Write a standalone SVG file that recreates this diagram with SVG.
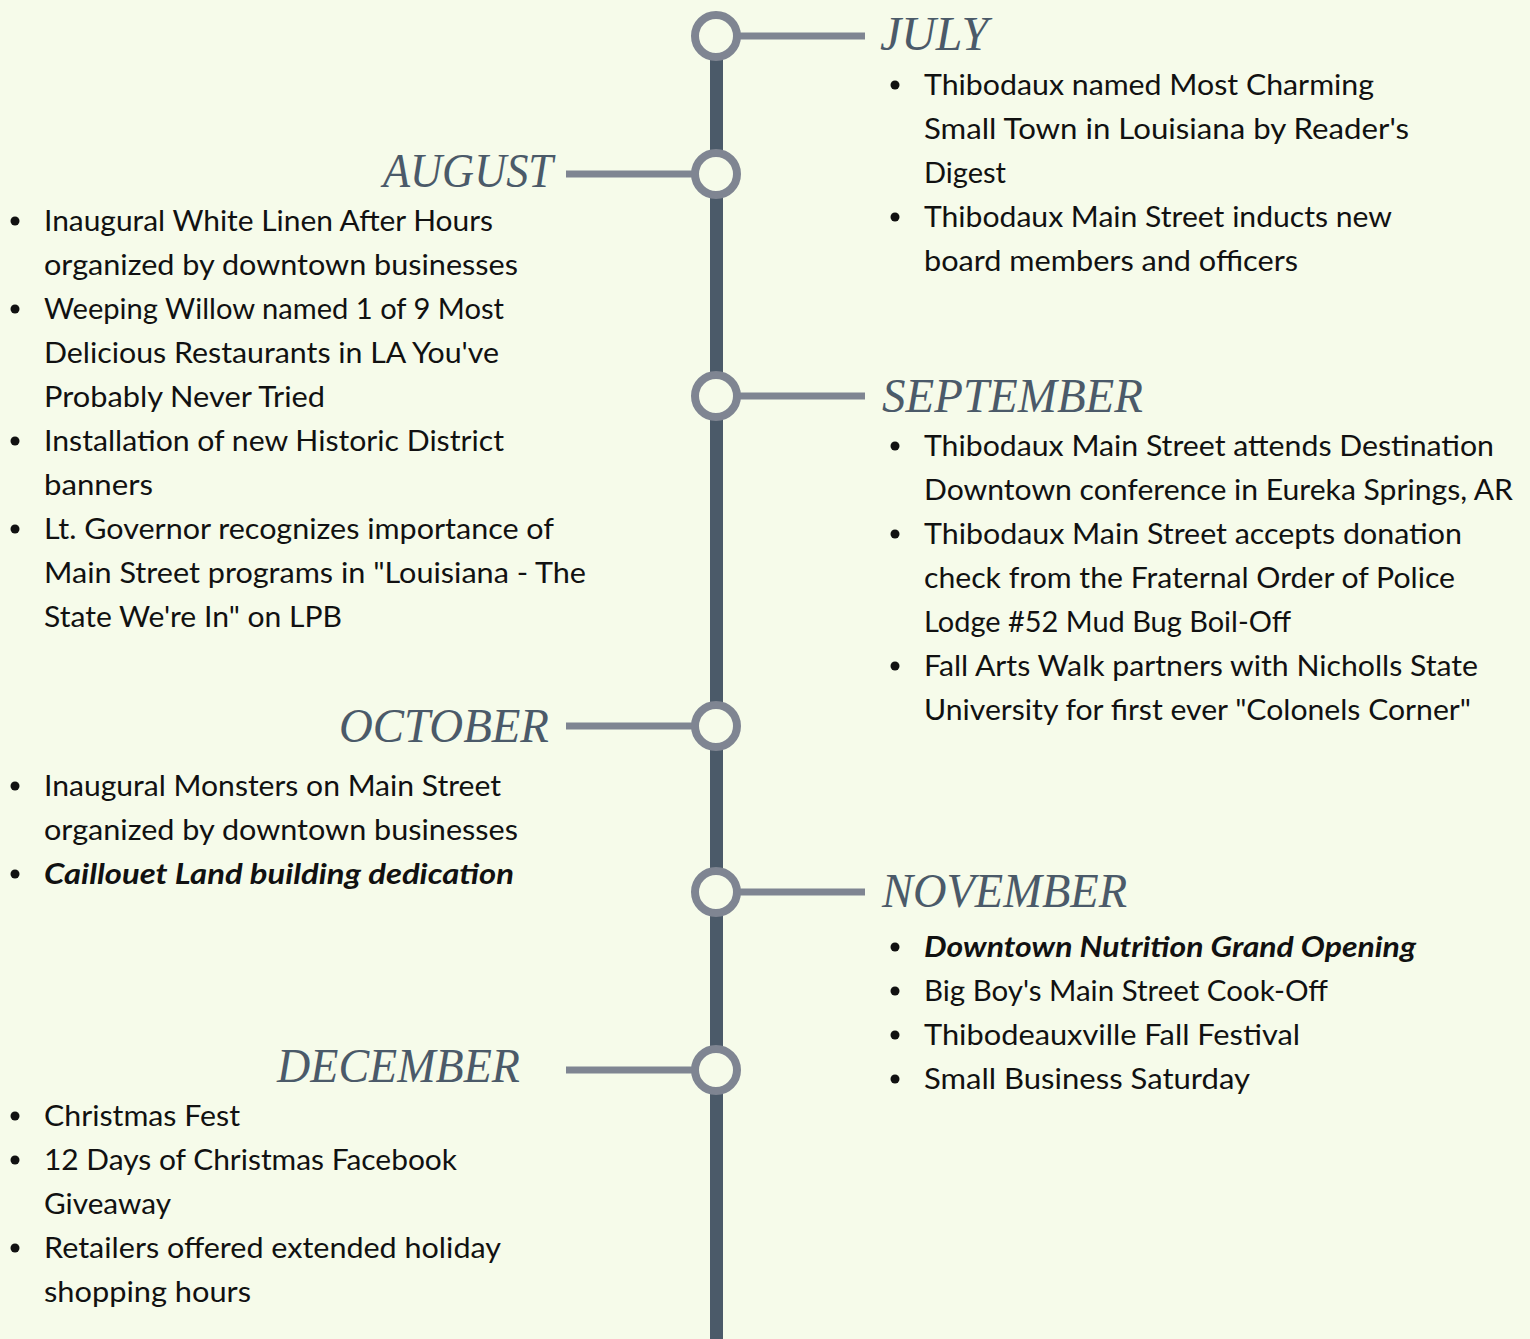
<svg xmlns="http://www.w3.org/2000/svg" width="1530" height="1339" viewBox="0 0 1530 1339">
<style>
.bg{fill:#F6FBEA}
.spine{stroke:#4B5A69;stroke-width:13}
.link{stroke:#7F8592;stroke-width:7}
.dot{fill:#F6FBEA;stroke:#7F8592;stroke-width:8}
.month{font-family:"Liberation Serif",serif;font-style:italic;font-size:48px;fill:#4B5A69}
.item{font-family:Lato,"Liberation Sans",sans-serif;font-size:28px;fill:#111}
.bi{font-weight:bold;font-style:italic}
.bullet{fill:#111}
</style>
<rect class="bg" width="1530" height="1339"/>
<g id="connectors">
<line class="spine" x1="716.5" y1="56" x2="716.5" y2="1339"/>
<line class="link" x1="738" y1="36" x2="865" y2="36"/>
<line class="link" x1="566" y1="174" x2="694" y2="174"/>
<line class="link" x1="738" y1="396" x2="865" y2="396"/>
<line class="link" x1="566" y1="726" x2="694" y2="726"/>
<line class="link" x1="738" y1="892" x2="865" y2="892"/>
<line class="link" x1="566" y1="1070" x2="694" y2="1070"/>
</g>
<g id="july">
<circle class="dot" cx="716" cy="36" r="21"/>
<text class="month" x="880" y="50" textLength="108" lengthAdjust="spacingAndGlyphs">JULY</text>
<g class="bullet"><circle cx="895" cy="85" r="4.5"/><circle cx="895" cy="217" r="4.5"/></g>
<text class="item" x="924" y="95" textLength="450" lengthAdjust="spacingAndGlyphs">Thibodaux named Most Charming</text>
<text class="item" x="924" y="139" textLength="485" lengthAdjust="spacingAndGlyphs">Small Town in Louisiana by Reader's</text>
<text class="item" x="924" y="183" textLength="82" lengthAdjust="spacingAndGlyphs">Digest</text>
<text class="item" x="924" y="227" textLength="468" lengthAdjust="spacingAndGlyphs">Thibodaux Main Street inducts new</text>
<text class="item" x="924" y="271" textLength="374" lengthAdjust="spacingAndGlyphs">board members and officers</text>
</g>
<g id="august">
<circle class="dot" cx="716" cy="174" r="21"/>
<text class="month" x="383" y="187" textLength="170" lengthAdjust="spacingAndGlyphs">AUGUST</text>
<g class="bullet"><circle cx="15" cy="221" r="4.5"/><circle cx="15" cy="309" r="4.5"/><circle cx="15" cy="441" r="4.5"/><circle cx="15" cy="529" r="4.5"/></g>
<text class="item" x="44" y="231" textLength="449" lengthAdjust="spacingAndGlyphs">Inaugural White Linen After Hours</text>
<text class="item" x="44" y="275" textLength="474" lengthAdjust="spacingAndGlyphs">organized by downtown businesses</text>
<text class="item" x="44" y="319" textLength="460" lengthAdjust="spacingAndGlyphs">Weeping Willow named 1 of 9 Most</text>
<text class="item" x="44" y="363" textLength="455" lengthAdjust="spacingAndGlyphs">Delicious Restaurants in LA You've</text>
<text class="item" x="44" y="407" textLength="281" lengthAdjust="spacingAndGlyphs">Probably Never Tried</text>
<text class="item" x="44" y="451" textLength="460" lengthAdjust="spacingAndGlyphs">Installation of new Historic District</text>
<text class="item" x="44" y="495" textLength="109" lengthAdjust="spacingAndGlyphs">banners</text>
<text class="item" x="44" y="539" textLength="510" lengthAdjust="spacingAndGlyphs">Lt. Governor recognizes importance of</text>
<text class="item" x="44" y="583" textLength="542" lengthAdjust="spacingAndGlyphs">Main Street programs in "Louisiana - The</text>
<text class="item" x="44" y="627" textLength="298" lengthAdjust="spacingAndGlyphs">State We're In" on LPB</text>
</g>
<g id="september">
<circle class="dot" cx="716" cy="396" r="21"/>
<text class="month" x="882" y="412" textLength="261" lengthAdjust="spacingAndGlyphs">SEPTEMBER</text>
<g class="bullet"><circle cx="895" cy="446" r="4.5"/><circle cx="895" cy="534" r="4.5"/><circle cx="895" cy="666" r="4.5"/></g>
<text class="item" x="924" y="456" textLength="570" lengthAdjust="spacingAndGlyphs">Thibodaux Main Street attends Destination</text>
<text class="item" x="924" y="500" textLength="589" lengthAdjust="spacingAndGlyphs">Downtown conference in Eureka Springs, AR</text>
<text class="item" x="924" y="544" textLength="538" lengthAdjust="spacingAndGlyphs">Thibodaux Main Street accepts donation</text>
<text class="item" x="924" y="588" textLength="531" lengthAdjust="spacingAndGlyphs">check from the Fraternal Order of Police</text>
<text class="item" x="924" y="632" textLength="367" lengthAdjust="spacingAndGlyphs">Lodge #52 Mud Bug Boil-Off</text>
<text class="item" x="924" y="676" textLength="554" lengthAdjust="spacingAndGlyphs">Fall Arts Walk partners with Nicholls State</text>
<text class="item" x="924" y="720" textLength="547" lengthAdjust="spacingAndGlyphs">University for first ever "Colonels Corner"</text>
</g>
<g id="october">
<circle class="dot" cx="716" cy="726" r="21"/>
<text class="month" x="339" y="742" textLength="210" lengthAdjust="spacingAndGlyphs">OCTOBER</text>
<g class="bullet"><circle cx="15" cy="786" r="4.5"/><circle cx="15" cy="874" r="4.5"/></g>
<text class="item" x="44" y="796" textLength="457" lengthAdjust="spacingAndGlyphs">Inaugural Monsters on Main Street</text>
<text class="item" x="44" y="840" textLength="474" lengthAdjust="spacingAndGlyphs">organized by downtown businesses</text>
<text class="item bi" x="44" y="884" textLength="470" lengthAdjust="spacingAndGlyphs">Caillouet Land building dedication</text>
</g>
<g id="november">
<circle class="dot" cx="716" cy="892" r="21"/>
<text class="month" x="882" y="907" textLength="245" lengthAdjust="spacingAndGlyphs">NOVEMBER</text>
<g class="bullet"><circle cx="895" cy="947" r="4.5"/><circle cx="895" cy="991" r="4.5"/><circle cx="895" cy="1035" r="4.5"/><circle cx="895" cy="1079" r="4.5"/></g>
<text class="item bi" x="924" y="957" textLength="492" lengthAdjust="spacingAndGlyphs">Downtown Nutrition Grand Opening</text>
<text class="item" x="924" y="1001" textLength="404" lengthAdjust="spacingAndGlyphs">Big Boy's Main Street Cook-Off</text>
<text class="item" x="924" y="1045" textLength="376" lengthAdjust="spacingAndGlyphs">Thibodeauxville Fall Festival</text>
<text class="item" x="924" y="1089" textLength="326" lengthAdjust="spacingAndGlyphs">Small Business Saturday</text>
</g>
<g id="december">
<circle class="dot" cx="716" cy="1070" r="21"/>
<text class="month" x="277" y="1082" textLength="243" lengthAdjust="spacingAndGlyphs">DECEMBER</text>
<g class="bullet"><circle cx="15" cy="1116" r="4.5"/><circle cx="15" cy="1160" r="4.5"/><circle cx="15" cy="1248" r="4.5"/></g>
<text class="item" x="44" y="1126" textLength="196" lengthAdjust="spacingAndGlyphs">Christmas Fest</text>
<text class="item" x="44" y="1170" textLength="413" lengthAdjust="spacingAndGlyphs">12 Days of Christmas Facebook</text>
<text class="item" x="44" y="1214" textLength="127" lengthAdjust="spacingAndGlyphs">Giveaway</text>
<text class="item" x="44" y="1258" textLength="457" lengthAdjust="spacingAndGlyphs">Retailers offered extended holiday</text>
<text class="item" x="44" y="1302" textLength="207" lengthAdjust="spacingAndGlyphs">shopping hours</text>
</g>
</svg>
